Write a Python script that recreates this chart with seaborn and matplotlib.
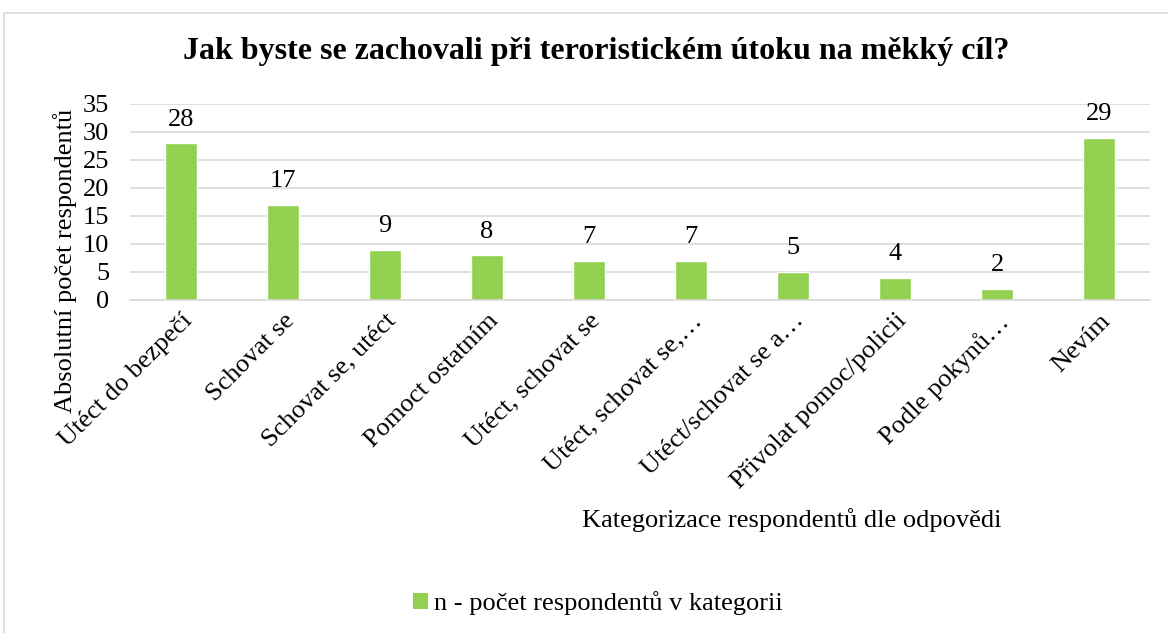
import matplotlib
matplotlib.use("Agg")
import matplotlib.pyplot as plt
import seaborn as sns
import pandas as pd
from matplotlib.patches import Rectangle, Patch

categories = ["Utéct do bezpečí", "Schovat se", "Schovat se, utéct", "Pomoct ostatním",
              "Utéct, schovat se", "Utéct, schovat se,…", "Utéct/schovat se a…",
              "Přivolat pomoc/policii", "Podle pokynů…", "Nevím"]
values = [28, 17, 9, 8, 7, 7, 5, 4, 2, 29]
series_name = "n - počet respondentů v kategorii"
title = "Jak byste se zachovali při teroristickém útoku na měkký cíl?"
y_label = "Absolutní počet respondentů"
x_label = "Kategorizace respondentů dle odpovědi"
y_ticks = [0, 5, 10, 15, 20, 25, 30, 35]

df = pd.DataFrame({"cat": categories, "val": values})

sns.set_theme(style="white")
plt.rcParams["font.family"] = ["Liberation Serif", "DejaVu Serif"]
plt.rcParams["text.color"] = "black"
plt.rcParams["axes.labelcolor"] = "black"
plt.rcParams["xtick.color"] = "black"
plt.rcParams["ytick.color"] = "black"

green = "#92D050"
fs = 19
fig = plt.figure(figsize=(11.68, 6.33), dpi=100)
ax = fig.add_axes([130/1168, 1-300/633, (1150-130)/1168, (300-104)/633])

sns.barplot(data=df, x="cat", y="val", color=green, width=0.31, ax=ax, saturation=1)
ax.set_ylim(0, 35)
ax.set_yticks(y_ticks)
ax.yaxis.grid(True, color="#D9D9D9", linewidth=1.2)
ax.set_axisbelow(True)
for s in ["top", "right", "left"]:
    ax.spines[s].set_visible(False)
ax.spines["bottom"].set_color("#D9D9D9")
ax.spines["bottom"].set_linewidth(1.2)
ax.tick_params(axis="both", length=0, labelsize=fs, colors="black")
ax.tick_params(axis="y", pad=15)
ax.tick_params(axis="x", pad=7)
for lbl in ax.get_xticklabels():
    lbl.set_rotation(45)
    lbl.set_ha("right")
    lbl.set_rotation_mode("anchor")
ax.set_xlim(-0.5, len(categories)-0.5)

for c in ax.containers:
    ax.bar_label(c, fmt="%d", padding=9, fontsize=fs, color="black")

ax.set_xlabel("")
ax.set_ylabel(y_label, fontsize=fs, color="black")
ax.yaxis.set_label_coords(-0.052, 0.2)
fig.text(792/1168, 1-520/633, x_label, ha="center", va="center", fontsize=fs, color="black")

fig.text(596/1168, 1-52/633, title, ha="center", va="center", fontsize=23,
         fontweight="bold", color="black")

handle = Patch(facecolor=green, edgecolor="none")
fig.legend([handle], [series_name], loc="center", bbox_to_anchor=(598/1168, 1-603/633),
           frameon=False, fontsize=fs, handlelength=0.55, handleheight=0.55, handletextpad=0.25,
           labelcolor="black")

fig.patches.append(Rectangle((4/1168, -0.1), 1.1, 1.1 - 13/633, transform=fig.transFigure,
                             fill=False, edgecolor="#D9D9D9", linewidth=1.2))

fig.savefig("out.png", dpi=100)
